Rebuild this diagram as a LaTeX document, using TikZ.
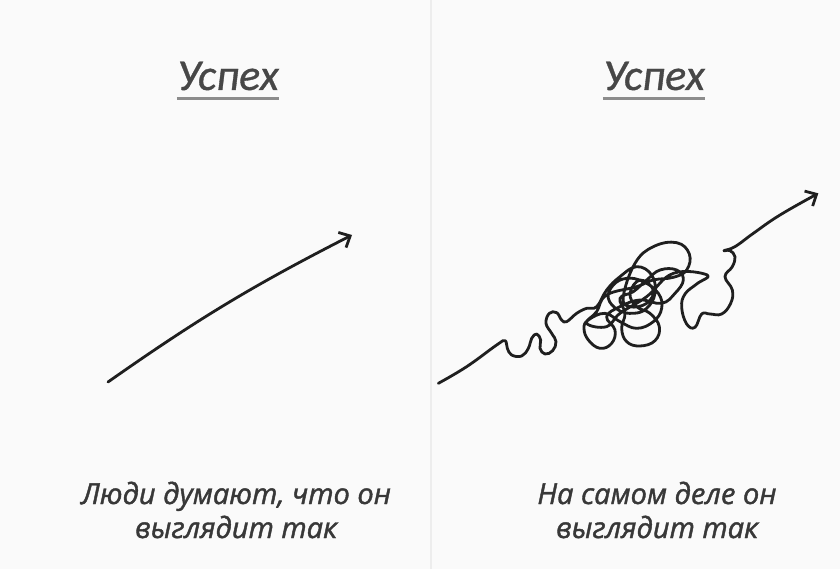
\documentclass[tikz,border=0pt]{standalone}
\usepackage{fontspec}
\setmainfont{Carlito}
\newfontfamily\titlefont[FakeBold=0.8]{Carlito}
\newfontfamily\handfont[FakeBold=1.4]{Open Sans}
\usetikzlibrary{arrows.meta}

\begin{document}
\begin{tikzpicture}[x=1pt, y=-1pt,
  title/.style={font=\titlefont\fontsize{44}{48}\selectfont\itshape, text=black!72, inner sep=0pt},
  uline/.style={line width=3pt, black!45},
  caption/.style={font=\handfont\itshape\fontsize{29}{34}\selectfont, text=black!78, align=center},
  curve/.style={line width=2.8pt, black!88, line cap=round, line join=round,
    -{Straight Barb[length=9pt, width=17pt]}},
]

% Background and panels
\fill[black!2] (0,0) rectangle (840,569);
\useasboundingbox (0,0) rectangle (840,569);
\draw[black!7, line width=1.5pt] (431,0) -- (431,569);

% Titles
\node[title] (ttl) at (228,76) {Успех};
\node[title] (ttr) at (654,76) {Успех};
\draw[uline] ([yshift=-9pt]ttl.base west) -- ([yshift=-9pt]ttl.base east);
\draw[uline] ([yshift=-9pt]ttr.base west) -- ([yshift=-9pt]ttr.base east);

% Left: straight arrow
\coordinate (lstart) at (108,382);
\coordinate (lend) at (352,235);
\draw[curve] (lstart) to[bend left=4] (lend);

% Right: tangled arrow
\begin{scope}[shift={(420,180)}, scale=1/3]
\draw[curve] plot[smooth, tension=0.7] coordinates {
  (55,610) (140,560) (230,495) (255,482) (262,505) (275,525) (305,528)
  (325,505) (335,475) (350,462) (362,480) (360,505) (375,522) (398,512)
  (408,485) (395,460) (378,430) (388,400) (410,398) (425,420) (440,425)
  (470,400) (500,385)
  (530,380) (560,330) (600,290) (650,260) (695,285) (705,340) (680,385)
  (640,400) (595,390) (565,355) (580,315) (620,295) (670,305) (715,340)
  (725,385) (700,425) (650,445) (600,425) (555,400) (505,420) (492,445)
  (505,480) (540,505) (575,490) (585,450) (560,410) (600,380) (660,360)
  (725,370) (765,340) (790,300) (770,270) (720,270) (680,300) (640,335)
  (600,355) (615,400) (605,445) (620,485) (660,498) (705,482) (718,440)
  (690,400) (650,380) (630,340) (660,300) (700,330) (680,370) (630,380)
  (610,350) (645,250) (700,200) (770,188) (808,222) (800,270) (760,292)
  (700,300) (650,320) (560,345) (530,395) (500,430) (560,440) (600,400)
  (680,350) (760,280) (862,285) (830,312) (795,342) (785,382) (800,432)
  (825,442) (845,402) (870,402) (905,402) (932,370) (937,330) (915,290)
  (937,260) (945,230) (930,212) (912,212)
  (945,200) (1000,160) (1080,105) (1195,40)};
\end{scope}

% Captions
\node[caption] (capl) at (236,510) {Люди думают, что он\\выглядит так};
\node[caption] (capr) at (657,510) {На самом деле он\\выглядит так};

\end{tikzpicture}
\end{document}
